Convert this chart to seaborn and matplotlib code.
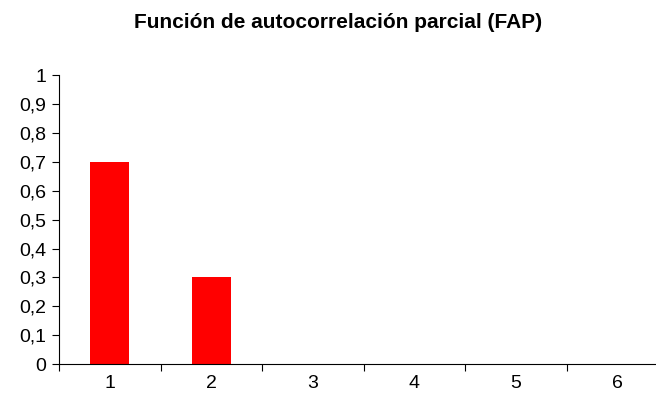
import matplotlib
matplotlib.use("Agg")
import matplotlib.pyplot as plt
import seaborn as sns
import pandas as pd
import numpy as np
from matplotlib.ticker import FixedLocator, FuncFormatter

# Partial autocorrelation values per lag
lags = ["1", "2", "3", "4", "5", "6"]
pacf = [0.7, 0.3, 0.0, 0.0, 0.0, 0.0]
y_ticks = [0, 0.1, 0.2, 0.3, 0.4, 0.5, 0.6, 0.7, 0.8, 0.9, 1.0]

sns.set_theme(style="white")
plt.rcParams["font.family"] = ["Liberation Sans", "DejaVu Sans"]

df = pd.DataFrame({"lag": lags, "pacf": pacf})

fig = plt.figure(figsize=(6.56, 4.08), dpi=100)
ax = fig.add_axes([0.0899, 0.1078, 0.9101, 0.7072])

sns.barplot(data=df, x="lag", y="pacf", color="#ff0000", saturation=1,
            width=0.38, ax=ax, edgecolor="none")

ax.set_ylim(0, 1.0)
ax.set_xlim(-0.5, 5.38)
ax.set_xlabel("")
ax.set_ylabel("")

ax.yaxis.set_major_locator(FixedLocator(y_ticks))
ax.yaxis.set_major_formatter(FuncFormatter(
    lambda v, p: ("%g" % round(v, 1)).replace(".", ",")))

# category labels centred, tick marks between categories
ax.xaxis.set_minor_locator(FixedLocator(np.arange(-0.5, 6.0, 1.0)))
ax.tick_params(axis="x", which="major", length=0, labelsize=14, pad=8,
               colors="black")
ax.tick_params(axis="x", which="minor", length=5, width=0.8, color="black",
               direction="out", bottom=True)
ax.tick_params(axis="y", which="major", length=5, width=0.8, color="black",
               direction="out", left=True, labelsize=14, pad=4,
               labelcolor="black")

for side in ["top", "right"]:
    ax.spines[side].set_visible(False)
for side in ["left", "bottom"]:
    ax.spines[side].set_color("black")
    ax.spines[side].set_linewidth(0.8)

fig.text(0.515, 0.944, "Función de autocorrelación parcial (FAP)",
         ha="center", va="center", fontsize=15, fontweight="bold",
         color="black")

fig.savefig("out.png", dpi=100, facecolor="white")
